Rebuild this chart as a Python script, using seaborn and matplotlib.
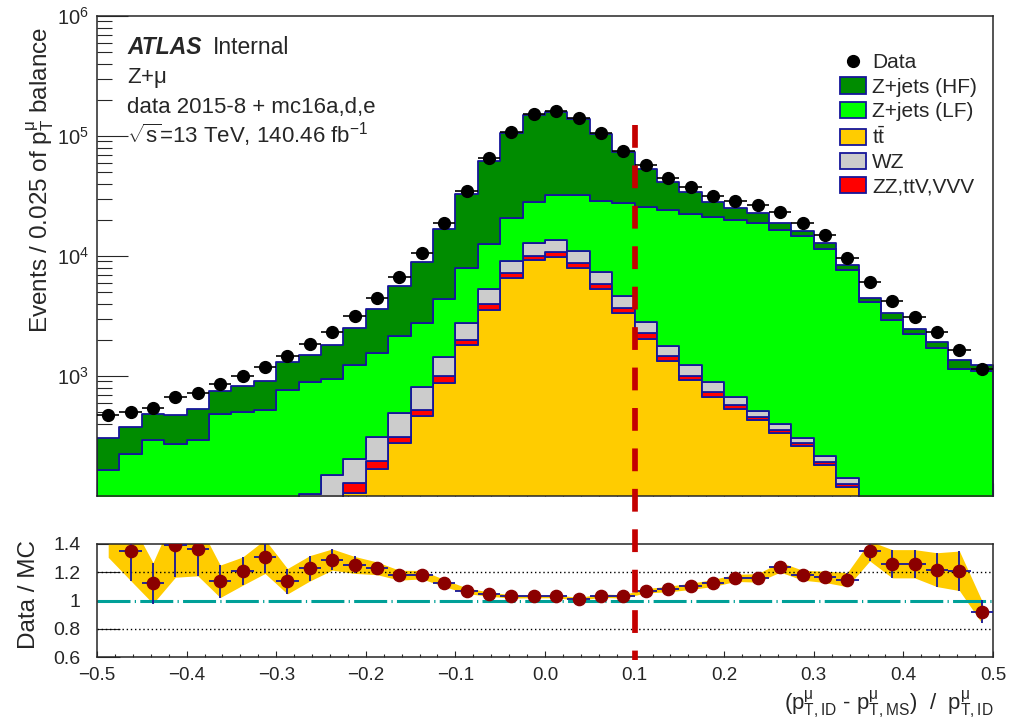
import numpy as np
import pandas as pd
import matplotlib
matplotlib.use("Agg")
import matplotlib.pyplot as plt
import matplotlib.transforms as mtransforms
from matplotlib.lines import Line2D
from matplotlib.patches import Patch
from matplotlib.ticker import FixedLocator, MultipleLocator, NullFormatter, LogLocator
import seaborn as sns

# ---------------- data ----------------
x_min, x_max, n_bins = -0.5, 0.5, 40

data_counts = [473, 504, 538, 664, 726, 853, 1000, 1196, 1476, 1837,
               2340, 3162, 4440, 6645, 10530, 18950, 35000, 65200, 108600, 152500,
               162500, 140400, 106500, 75400, 57300, 44400, 37370, 31620, 28900, 26600,
               23400, 18950, 14960, 9680, 6070, 4195, 3100, 2340, 1647, 1144]

zjets_hf = [140, 150, 186, 205, 239, 271, 324, 391, 535, 610,
            875, 1291, 2071, 3482, 6118, 12505, 24840, 49870, 84690, 119850,
            125660, 106460, 74270, 45810, 28140, 16910, 11710, 7000, 4960, 4200,
            2460, 1390, 1450, 792, 386, 400, 234, 219, 224, 136]

zjets_lf = [159, 214, 282, 256, 273, 453, 468, 471, 694, 783,
            789, 1033, 1233, 1660, 1978, 2906, 5152, 7260, 11770, 15590,
            18650, 21230, 21370, 22820, 22625, 22370, 21025, 20245, 19280, 18220,
            16070, 14380, 11150, 7500, 4033, 2876, 2188, 1675, 1117, 1093]

ttbar = [2, 3, 4, 5, 7, 10, 14, 20, 30, 45,
         70, 105, 167, 275, 464, 879, 1812, 3548, 6555, 9173,
         9750, 7900, 5290, 3330, 2034, 1334, 926, 672, 528, 430,
         333, 262, 181, 118, 60, 40, 28, 20, 14, 10]

wz = [3, 4, 5, 7, 9, 12, 16, 22, 30, 43,
      60, 74, 116, 182, 284, 449, 753, 1279, 1865, 2760,
      2850, 2350, 1539, 977, 565, 320, 229, 146, 99, 53,
      43, 27, 24, 14, 12, 9, 7, 5, 4, 3]

zz_ttv_vvv = [1, 2, 2, 3, 4, 5, 6, 8, 10, 15,
              20, 23, 29, 37, 57, 121, 183, 433, 660, 827,
              990, 760, 531, 335, 236, 134, 80, 68, 45, 28,
              22, 13, 12, 8, 5, 4, 3, 2, 2, 1]

ratio_err = [0.245, 0.21, 0.145, 0.23, 0.19, 0.115, 0.10, 0.12, 0.09, 0.09,
             0.075, 0.06, 0.045, 0.035, 0.03, 0.025, 0.02, 0.015, 0.012, 0.01,
             0.01, 0.01, 0.012, 0.012, 0.015, 0.02, 0.022, 0.025, 0.025, 0.03,
             0.035, 0.035, 0.04, 0.05, 0.07, 0.10, 0.10, 0.12, 0.14, 0.08]

process_labels = ["Z+jets (HF)", "Z+jets (LF)", r"$\mathregular{t\bar{t}}$", "WZ", "ZZ,ttV,VVV"]
process_colors = ["#008c00", "#00ff00", "#ffcc00", "#cccccc", "#ff0000"]
cut_value = 0.1

# ---------------- style ----------------
sns.set_theme(style="ticks")
plt.rcParams["font.family"] = ["Liberation Sans", "DejaVu Sans"]
plt.rcParams["mathtext.fontset"] = "custom"
plt.rcParams["mathtext.rm"] = "Liberation Sans"
plt.rcParams["mathtext.it"] = "Liberation Sans:italic"
plt.rcParams["mathtext.bf"] = "Liberation Sans:bold"
plt.rcParams["mathtext.sf"] = "Liberation Sans"
plt.rcParams["axes.linewidth"] = 1.1

outline = "#16169a"
edges = np.linspace(x_min, x_max, n_bins + 1)
centers = 0.5 * (edges[:-1] + edges[1:])
half_w = 0.5 * (edges[1] - edges[0])

series = {
    process_labels[0]: zjets_hf,
    process_labels[1]: zjets_lf,
    process_labels[2]: ttbar,
    process_labels[3]: wz,
    process_labels[4]: zz_ttv_vvv,
}
palette = dict(zip(process_labels, process_colors))
# seaborn stacks the first hue level on top
stack_order = [process_labels[0], process_labels[1], process_labels[3], process_labels[4], process_labels[2]]

df = pd.concat(
    [pd.DataFrame({"x": centers, "w": series[k], "process": k}) for k in stack_order],
    ignore_index=True,
)

fig = plt.figure(figsize=(10.10, 7.27), dpi=100)
ax = fig.add_axes([97 / 1010, 1 - 496 / 727, 896 / 1010, 480 / 727])
axr = fig.add_axes([97 / 1010, 1 - 657 / 727, 896 / 1010, 113 / 727])

ax.set_yscale("log")
sns.histplot(data=df, x="x", weights="w", hue="process", hue_order=stack_order,
             multiple="stack", bins=edges.tolist(), element="step", fill=True,
             palette=palette, alpha=1.0, edgecolor=outline, linewidth=1.3,
             legend=False, ax=ax)

ax.errorbar(centers, data_counts, xerr=half_w, fmt="o", color="black",
            ms=8.5, elinewidth=1.2, capsize=0, zorder=6)

ax.set_xlim(x_min, x_max)
ax.set_ylim(100, 1e6)
ax.set_xlabel("")
ax.yaxis.set_major_locator(FixedLocator([1e3, 1e4, 1e5, 1e6]))
ax.yaxis.set_minor_locator(LogLocator(base=10, subs=np.arange(2, 10), numticks=20))
ax.yaxis.set_minor_formatter(NullFormatter())
ax.xaxis.set_major_locator(MultipleLocator(0.1))
ax.xaxis.set_minor_locator(MultipleLocator(0.02))
ax.tick_params(axis="x", which="both", direction="in", labelbottom=False)
ax.tick_params(axis="x", which="major", length=9.4, width=0.8)
ax.tick_params(axis="x", which="minor", length=5, width=0.8)
ax.tick_params(axis="y", which="major", direction="in", length=22, width=0.8,
               labelsize=14.5, pad=6)
ax.tick_params(axis="y", which="minor", direction="in", length=11, width=0.8)
ax.set_ylabel(r"Events / 0.025 of p$\mathregular{^{μ}_{T}}$ balance", fontsize=17.5, loc="top")
ax.yaxis.set_label_coords(-0.046, 0.977)

# text block
ax.text(0.0335, 0.921, "ATLAS", transform=ax.transAxes, fontsize=16.5,
        fontweight="bold", fontstyle="italic", va="baseline")
ax.text(0.1295, 0.921, "Internal", transform=ax.transAxes, fontsize=16.5, va="baseline")
ax.text(0.0335, 0.860, r"Z+$\mathregular{μ}$", transform=ax.transAxes, fontsize=16, va="baseline")
ax.text(0.0335, 0.798, "data 2015-8 + mc16a,d,e", transform=ax.transAxes, fontsize=16, va="baseline")
ax.text(0.0335, 0.735, r"$\sqrt{\mathregular{s}}$=13 TeV, 140.46 fb$\mathregular{^{-1}}$",
        transform=ax.transAxes, fontsize=16, va="baseline")

# legend
handles = [Line2D([], [], marker="o", color="black", ls="none", ms=8.5)]
for lab, col in zip(process_labels, process_colors):
    handles.append(Patch(facecolor=col, edgecolor=outline, linewidth=1.3))
ax.legend(handles, ["Data"] + process_labels, loc="upper left",
          bbox_to_anchor=((840 - 97) / 896, (496 - 53) / 480),
          frameon=False, fontsize=15, borderpad=0, borderaxespad=0,
          handlelength=1.25, handleheight=0.82, handletextpad=0.3,
          labelspacing=0.24)

# ---------------- ratio panel ----------------
total_mc = np.array(zjets_hf) + np.array(zjets_lf) + np.array(ttbar) + np.array(wz) + np.array(zz_ttv_vvv)
ratio = np.array(data_counts) / total_mc
rerr = np.array(ratio_err)

axr.fill_between(centers, ratio - rerr, ratio + rerr, color="#ffcc00", lw=0, zorder=1)
axr.axhline(1.0, color="#00a098", lw=2.2, dashes=(10.8, 1.4, 0.4, 1.4), zorder=2)
for yv in (0.8, 1.2):
    axr.axhline(yv, color="black", lw=1.0, ls=(0, (1, 2)), zorder=1.5)
inside = ratio <= 1.4
axr.errorbar(centers[inside], ratio[inside], xerr=half_w, yerr=rerr[inside], fmt="o",
             color="#8b0000", ecolor=outline, elinewidth=1.3, ms=8.8, capsize=0, zorder=4)

axr.set_xlim(x_min, x_max)
axr.set_ylim(0.6, 1.4)
axr.set_yticks([0.6, 0.8, 1.0, 1.2, 1.4])
axr.set_yticklabels(["0.6", "0.8", "1", "1.2", "1.4"])
axr.xaxis.set_major_locator(MultipleLocator(0.1))
axr.xaxis.set_minor_locator(MultipleLocator(0.02))
axr.tick_params(axis="y", which="major", direction="in", length=16.5, width=0.8,
                labelsize=14, pad=12)
axr.tick_params(axis="y", which="minor", left=False)
axr.tick_params(axis="x", which="major", direction="in", length=4.3, width=0.8,
                labelsize=13.5, pad=7)
axr.tick_params(axis="x", which="minor", direction="in", length=2.5, width=0.8)
axr.set_ylabel("Data / MC", fontsize=17.5)
axr.yaxis.set_label_coords(-0.064, 0.55)
axr.set_xlabel(r"(p$\mathregular{^{μ}_{T,ID}}$ - p$\mathregular{^{μ}_{T,MS}}$)  /  p$\mathregular{^{μ}_{T,ID}}$",
               fontsize=16, loc="right")
axr.xaxis.set_label_coords(1.0, -0.28)

# vertical cut line spanning both panels
trans = mtransforms.blended_transform_factory(ax.transData, fig.transFigure)
fig.add_artist(Line2D([cut_value, cut_value], [1 - 125 / 727, 1 - 660 / 727],
                      transform=trans, color="#c40000", lw=4.1,
                      dashes=(4.0, 3.1), zorder=10))

fig.savefig("out.png", dpi=100)
